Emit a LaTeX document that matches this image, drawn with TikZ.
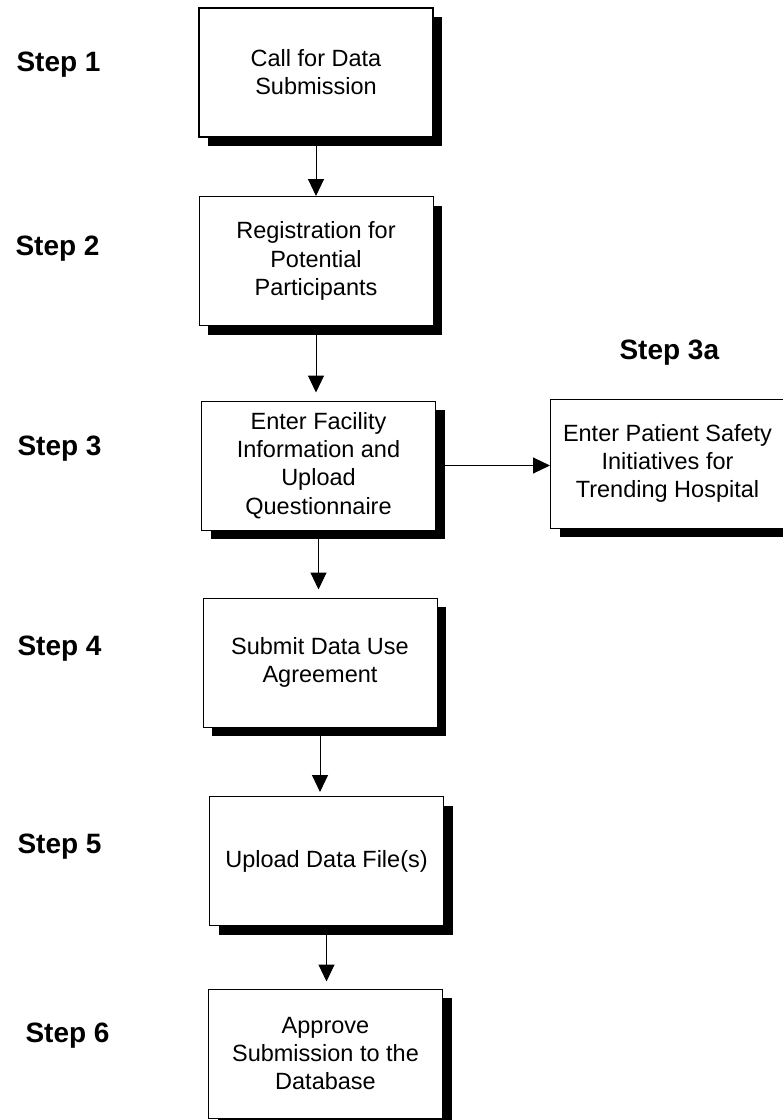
\documentclass[tikz,border=0pt]{standalone}
\usepackage{fontspec}
\setmainfont{Liberation Sans}
\usepackage{tikz}
\usetikzlibrary{arrows}
\usetikzlibrary{
   arrows.meta,
  shadows,
}

\tikzset{
    stepbox/.style={draw, line width=1pt, fill=white,
        minimum width=234pt, minimum height=129pt, inner sep=0pt,
        align=center, font=\fontsize{23.5}{28.3}\selectfont,
        drop shadow={shadow xshift=9pt, shadow yshift=-9pt, opacity=1, fill=black}},
    steplabel/.style={anchor=base west, font=\fontsize{28}{32}\selectfont\bfseries},
    flow/.style={-{Triangle[length=17pt,width=16pt]}, line width=1pt}
}

\begin{document}
\begin{tikzpicture}[x=1pt,y=-1pt]
       \useasboundingbox[fill=white] (0,0) rectangle (783,1120);
       \node[stepbox, line width=2pt] (call) at (316,72) {Call for Data\\Submission};
       \node[stepbox] (register) at (316,261) {Registration for\\Potential\\Participants};
       \node[stepbox] (facility) at (318.5,465.5) {Enter Facility\\Information and\\Upload\\Questionnaire};
       \node[stepbox] (safety) at (667.5,463.5) {Enter Patient Safety\\Initiatives for\\Trending Hospital};
       \node[stepbox] (agreement) at (320,662.5) {Submit Data Use\\Agreement};
       \node[stepbox] (upload) at (326.5,861) {Upload Data File(s)};
       \node[stepbox] (approve) at (325.5,1053.5) {Approve\\Submission to the\\Database};
          \node[steplabel] (s1) at (13,71) {Step 1};
          \node[steplabel] (s2) at (12,255) {Step 2};
          \node[steplabel] (s3) at (14,455) {Step 3};
          \node[steplabel] (s3a) at (616,359) {Step 3a};
          \node[steplabel] (s4) at (14,655) {Step 4};
          \node[steplabel] (s5) at (14,853) {Step 5};
          \node[steplabel] (s6) at (22,1042) {Step 6};
          \draw[flow] (call.south) -- (call.south |- register.north);
          \draw[flow, shorten >=8pt] (register.south) -- (register.south |- facility.north);
          \draw[flow] (facility.east) -- (facility.east -| safety.west);
          \draw[flow, shorten >=8pt] (facility.south) -- (facility.south |- agreement.north);
          \draw[flow, shorten >=4pt] (agreement.south) -- (agreement.south |- upload.north);
          \draw[flow, shorten >=7pt] (upload.south) -- (upload.south |- approve.north);
          %\draw[flow] (upload) -- (approve);
    \end{tikzpicture}
\end{document}
